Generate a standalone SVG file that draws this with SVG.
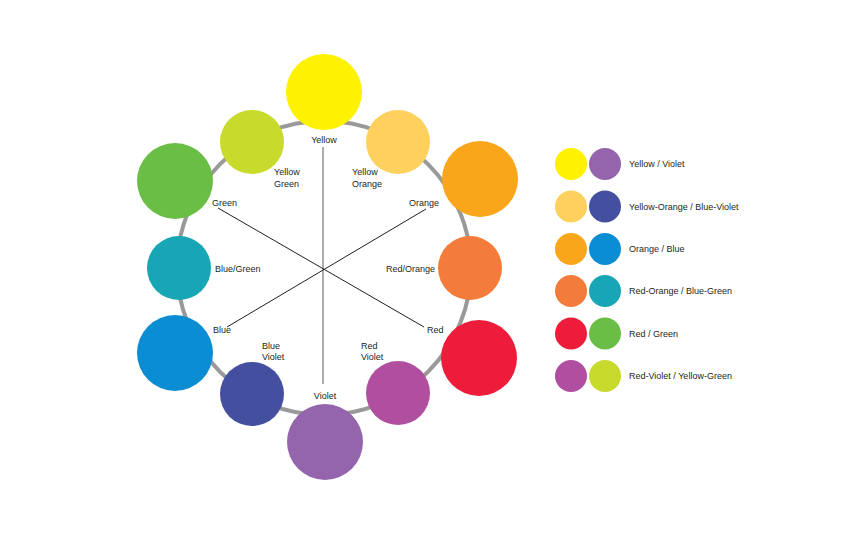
<svg xmlns="http://www.w3.org/2000/svg" width="850" height="540" viewBox="0 0 850 540">
<style>
text{font-family:"Liberation Sans",Arial,sans-serif;font-size:9px;fill:#231f20}
.m{text-anchor:middle}
.ring{fill:none;stroke:#999;stroke-width:4}
.gl{stroke:#999;stroke-width:1.6}
.bl{stroke:#231f20;stroke-width:1}
</style>
<rect width="850" height="540" fill="#fff"/>
<g id="connectors">
<circle class="ring" cx="324" cy="268" r="147"/>
<line class="gl" x1="323" y1="147" x2="323" y2="384"/>
<line class="bl" x1="218" y1="208" x2="424" y2="327"/>
<line class="bl" x1="426" y1="209" x2="227" y2="327"/>
</g>
<g id="yellow"><circle cx="324" cy="92" r="38" fill="#fff200"/><text class="m" x="324" y="143">Yellow</text></g>
<g id="yellow-orange"><circle cx="398" cy="142" r="32" fill="#fed05d"/><text x="352" y="175">Yellow</text><text x="352" y="187">Orange</text></g>
<g id="orange"><circle cx="480" cy="179" r="38" fill="#f9a61b"/><text x="409" y="206">Orange</text></g>
<g id="red-orange"><circle cx="470" cy="268" r="32" fill="#f37c3a"/><text x="386" y="271.5">Red/Orange</text></g>
<g id="red"><circle cx="479" cy="358" r="38" fill="#ec1c3a"/><text x="427" y="333">Red</text></g>
<g id="red-violet"><circle cx="398" cy="393" r="32" fill="#b04fa0"/><text x="361" y="349">Red</text><text x="361" y="360">Violet</text></g>
<g id="violet"><circle cx="325" cy="442" r="38" fill="#9465ad"/><text class="m" x="325" y="399">Violet</text></g>
<g id="blue-violet"><circle cx="252" cy="394" r="32" fill="#454fa0"/><text x="262" y="349">Blue</text><text x="262" y="360">Violet</text></g>
<g id="blue"><circle cx="175" cy="353" r="38" fill="#0a8dd3"/><text x="213" y="333">Blue</text></g>
<g id="blue-green"><circle cx="179" cy="268" r="32" fill="#17a6b5"/><text x="215" y="271.5">Blue/Green</text></g>
<g id="green"><circle cx="175" cy="181" r="38" fill="#6abd45"/><text x="212" y="206">Green</text></g>
<g id="yellow-green"><circle cx="252" cy="142" r="32" fill="#c8da2c"/><text x="274" y="175">Yellow</text><text x="274" y="187">Green</text></g>
<g id="legend">
<g id="pair1"><circle cx="571" cy="164" r="16" fill="#fff200"/><circle cx="605" cy="164" r="16" fill="#9465ad"/><text x="629" y="167">Yellow / Violet</text></g>
<g id="pair2"><circle cx="571" cy="206.5" r="16" fill="#fed05d"/><circle cx="605" cy="206.5" r="16" fill="#454fa0"/><text x="629" y="209.5">Yellow-Orange / Blue-Violet</text></g>
<g id="pair3"><circle cx="571" cy="249" r="16" fill="#f9a61b"/><circle cx="605" cy="249" r="16" fill="#0a8dd3"/><text x="629" y="252">Orange / Blue</text></g>
<g id="pair4"><circle cx="571" cy="291" r="16" fill="#f37c3a"/><circle cx="605" cy="291" r="16" fill="#17a6b5"/><text x="629" y="294">Red-Orange / Blue-Green</text></g>
<g id="pair5"><circle cx="571" cy="333.5" r="16" fill="#ec1c3a"/><circle cx="605" cy="333.5" r="16" fill="#6abd45"/><text x="629" y="336.5">Red / Green</text></g>
<g id="pair6"><circle cx="571" cy="376" r="16" fill="#b04fa0"/><circle cx="605" cy="376" r="16" fill="#c8da2c"/><text x="629" y="379">Red-Violet / Yellow-Green</text></g>
</g>
</svg>
